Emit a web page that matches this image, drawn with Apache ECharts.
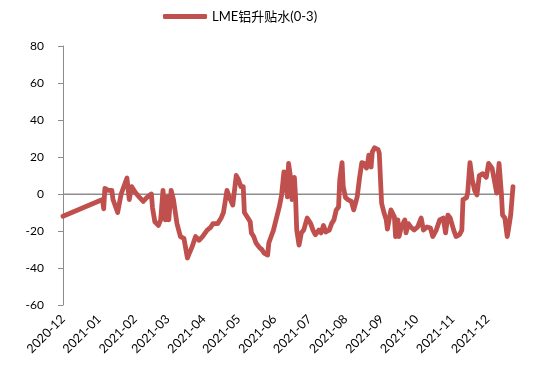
<!DOCTYPE html>
<html>
<head>
<meta charset="utf-8">
<script src="https://cdn.jsdelivr.net/npm/echarts@6/dist/echarts.min.js"></script>
<style>
html,body{margin:0;padding:0;background:#fff;}
#c{width:550px;height:381px;}
</style>
</head>
<body>
<div id="c"></div>
<script>
var seriesName = 'LME铝升贴水(0-3)';
var monthTicks = ['2020-12-01','2021-01-01','2021-02-01','2021-03-01','2021-04-01','2021-05-01','2021-06-01','2021-07-01','2021-08-01','2021-09-01','2021-10-01','2021-11-01','2021-12-01'];
var monthLabels = ['2020-12','2021-01','2021-02','2021-03','2021-04','2021-05','2021-06','2021-07','2021-08','2021-09','2021-10','2021-11','2021-12'];
var yTicks = [-60,-40,-20,0,20,40,60,80];
var baseline = 0;

var dates = [
'2020-12-01',
'2021-01-04','2021-01-05','2021-01-06','2021-01-09','2021-01-12','2021-01-13','2021-01-17','2021-01-20','2021-01-25','2021-01-27','2021-01-29',
'2021-02-01','2021-02-05','2021-02-08','2021-02-11','2021-02-15','2021-02-16','2021-02-18','2021-02-21','2021-02-23','2021-02-25','2021-02-27',
'2021-03-01','2021-03-02','2021-03-04','2021-03-06','2021-03-09','2021-03-12','2021-03-15','2021-03-18','2021-03-19','2021-03-22','2021-03-25','2021-03-28','2021-03-31',
'2021-04-04','2021-04-07','2021-04-09','2021-04-13','2021-04-16','2021-04-18','2021-04-21','2021-04-23','2021-04-26','2021-04-27','2021-04-29',
'2021-05-01','2021-05-03','2021-05-05','2021-05-06','2021-05-09','2021-05-11','2021-05-12','2021-05-14','2021-05-16','2021-05-19','2021-05-21','2021-05-23','2021-05-26','2021-05-27','2021-05-29','2021-05-31',
'2021-06-03','2021-06-05','2021-06-07','2021-06-09','2021-06-10','2021-06-11','2021-06-12','2021-06-13','2021-06-15','2021-06-16','2021-06-18','2021-06-19','2021-06-20','2021-06-22','2021-06-24','2021-06-26','2021-06-29',
'2021-07-02','2021-07-04','2021-07-06','2021-07-09','2021-07-11','2021-07-13','2021-07-15','2021-07-18','2021-07-20','2021-07-22','2021-07-24','2021-07-26','2021-07-27','2021-07-29','2021-07-30',
'2021-08-01','2021-08-03','2021-08-06','2021-08-08','2021-08-10','2021-08-11','2021-08-13','2021-08-15','2021-08-17','2021-08-19','2021-08-20','2021-08-21','2021-08-23','2021-08-24','2021-08-26','2021-08-27','2021-08-29','2021-08-30',
'2021-09-01','2021-09-03','2021-09-05','2021-09-06','2021-09-09','2021-09-12','2021-09-13','2021-09-15','2021-09-16','2021-09-18','2021-09-21','2021-09-22','2021-09-24','2021-09-26','2021-09-29',
'2021-10-02','2021-10-05','2021-10-07','2021-10-10','2021-10-13','2021-10-15','2021-10-18','2021-10-21','2021-10-24','2021-10-26','2021-10-28','2021-10-30',
'2021-11-02','2021-11-04','2021-11-07','2021-11-09','2021-11-10','2021-11-13','2021-11-14','2021-11-16','2021-11-18','2021-11-20','2021-11-22','2021-11-24','2021-11-27','2021-11-30',
'2021-12-02','2021-12-03','2021-12-05','2021-12-06','2021-12-09','2021-12-11','2021-12-13','2021-12-14','2021-12-16','2021-12-18','2021-12-19','2021-12-21','2021-12-23'
];
var values = [
-12,
-3,-8,3,2,2,-3,-10,0,8.6,-3,4,
1,-2,-4,-2,0,-7.6,-15,-17,-14,2,-14,
-1.6,-14,2,-3,-16,-23,-24,-34.6,-33,-28.6,-23,-25,-23,
-19.5,-18,-16,-16,-13,-10,2,-1.6,-6,-7,10,
7.6,4,4,-10,-13,-15,-21,-23,-26.5,-29,-30,-32,-33,-26.5,-23,-19.5,
-12,-7,-0.5,12,2,12,-1.6,16.5,7.6,-3,9,-1.6,-19.5,-27.6,-21,-19.5,-13,
-16,-19.5,-22,-19.5,-21,-17,-20.5,-19.5,-16,-14,-8.6,-7,7.6,17,4,
-2,-3,-4,-8.6,-4,-1.6,8.6,17,16.5,14,16.5,21,14.6,22.7,25,26,24,22,
-5,-10,-14,-19,-8.6,-12.4,-23,-14,-23,-17.8,-14,-21,-16,-17.8,-19.5,
-17.8,-13,-19.5,-17.8,-18.4,-23,-19.5,-14,-13,-21,-11.4,-13,
-19.5,-23,-22,-19.5,-3,-2,0.5,17,7.6,2,-0.5,10,11,9,
16.5,15.7,14,13,0.5,16.5,0.5,-11.4,-13,-23,-19.5,-11.4,4
];

var pd = echarts.number.parseDate;
var tickTimes = monthTicks.map(function (d) { return pd(d).getTime(); });
var xMin = tickTimes[0];
var xMax = pd(dates[dates.length - 1]).getTime();
var seriesData = dates.map(function (d, i) { return [pd(d).getTime(), values[i]]; });
var baselineData = [[xMin, baseline], [xMax, baseline]];

var chart = echarts.init(document.getElementById('c'), null, {renderer: 'canvas'});
var font = 'Lato, "Noto Sans CJK SC", sans-serif';
chart.setOption({
  animation: false,
  backgroundColor: '#ffffff',
  textStyle: {fontFamily: font},
  legend: {
    top: 10, left: 163, padding: 0,
    itemWidth: 44, itemHeight: 5, itemGap: 4,
    icon: 'roundRect',
    textStyle: {fontSize: 13, color: '#000', fontFamily: font},
    data: [seriesName]
  },
  grid: {left: 63, right: 37, top: 46, bottom: 76, containLabel: false},
  xAxis: {
    type: 'value', min: xMin, max: xMax, position: 'bottom',
    axisLine: {show: false, onZero: false},
    axisTick: {show: false},
    splitLine: {show: false},
    axisLabel: {
      customValues: tickTimes,
      rotate: 45, margin: 12, fontSize: 12.5, color: '#000', fontFamily: font,
      hideOverlap: false, showMinLabel: true, showMaxLabel: true,
      formatter: function (v) {
        var i = tickTimes.indexOf(v);
        return i >= 0 ? monthLabels[i] : '';
      }
    }
  },
  yAxis: {
    type: 'value', min: yTicks[0], max: yTicks[yTicks.length - 1], interval: 20,
    axisLine: {show: true, lineStyle: {color: '#8c8c8c', width: 1}},
    axisTick: {show: true, inside: false, length: 5, lineStyle: {color: '#8c8c8c'}},
    splitLine: {show: false},
    axisLabel: {margin: 19, fontSize: 12, color: '#000', fontFamily: font}
  },
  series: [{
    name: 'baseline', type: 'line', silent: true,
    data: baselineData, showSymbol: false, symbol: 'none',
    lineStyle: {color: '#8c8c8c', width: 1},
    itemStyle: {color: '#8c8c8c'},
    emphasis: {disabled: true}, tooltip: {show: false}
  }, {
    name: seriesName, type: 'line',
    data: seriesData, showSymbol: false, symbol: 'none',
    connectNulls: true,
    lineStyle: {color: '#C0504D', width: 4.8, join: 'round', cap: 'round'},
    itemStyle: {color: '#C0504D'}
  }]
});

// zero reference line as a 1px filled rect, positioned through the chart's own scales
var p0 = chart.convertToPixel({gridIndex: 0}, [xMin, baseline]);
var p1 = chart.convertToPixel({gridIndex: 0}, [xMax, baseline]);
if (p0 && p1) {
  var yy = Math.round(p0[1]);
  chart.setOption({
    graphic: [{
      type: 'rect', silent: true, z: 0,
      shape: {x: Math.round(p0[0]), y: yy, width: Math.round(p1[0] - p0[0]), height: 1},
      style: {fill: '#8c8c8c'}
    }]
  });
}
</script>
</body>
</html>
